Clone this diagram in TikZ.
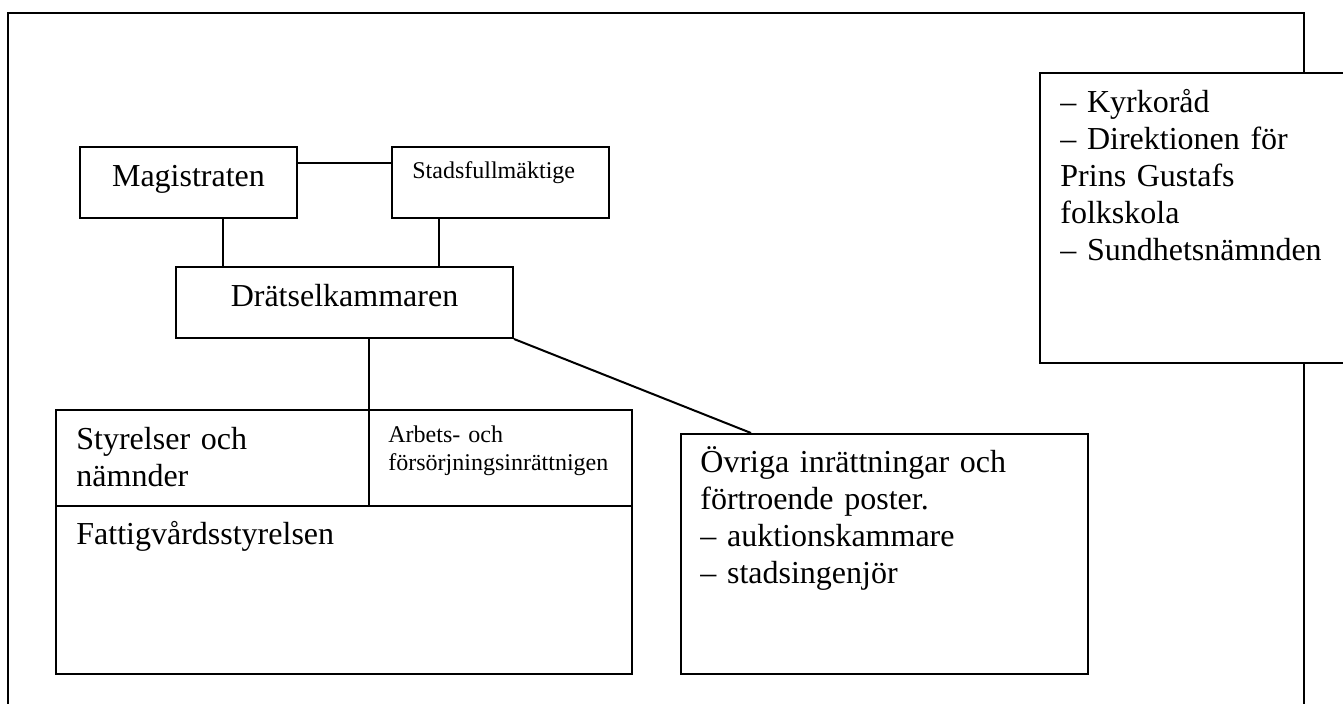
\documentclass[tikz,border=0pt]{standalone}
\usepackage{fontspec}
\setmainfont{Liberation Serif}
\usepackage{tikz}
\usetikzlibrary{positioning}

\begin{document}
\begin{tikzpicture}[
        x=0.5pt, y=-0.5pt,
        box/.style={rectangle, draw, line width=1pt, inner sep=0pt, anchor=north west, fill=white},
        link/.style={line width=1pt},
        txt/.style={inner sep=0pt, text width=300pt, align=left, anchor=base west, font=\fontsize{16}{18.4}\selectfont},
        smalltxt/.style={txt, font=\fontsize{12}{13.8}\selectfont}
    ]
    \useasboundingbox (0,0) rectangle (1343,704);

    % outer frame, open at the bottom
    \draw[line width=1.2pt] (8,720) -- (8,13) -- (1304,13) -- (1304,720);

    \node (mag) [box, minimum width=108.5pt, minimum height=35.5pt] at (79,146) {};
    \node (stad) [box, minimum width=108.5pt, minimum height=35.5pt] at (391,146) {};
    \node (drat) [box, minimum width=168.5pt, minimum height=35.5pt] at (175,266) {};
    \node (styr) [box, minimum width=156.5pt, minimum height=48pt] at (55,409) {};
    \node (arb) [box, minimum width=131.5pt, minimum height=48pt] at (368,409) {};
    \node (fatt) [box, minimum width=288pt, minimum height=84pt] at (55,505) {};
    \node (ovr) [box, minimum width=203.5pt, minimum height=120pt] at (680,433) {};
    \node (kyrk) [box, minimum width=180.5pt, minimum height=145pt] at (1039,72) {};

    \node (magtxt) [inner sep=0pt, anchor=base, font=\fontsize{16}{18.4}\selectfont] at ([yshift=-20.5pt]mag.north) {Magistraten};
    \node (stadtxt) [smalltxt] at ([xshift=10.5pt, yshift=-16.5pt]stad.north west) {Stadsfullmäktige};
    \node (dratxt) [inner sep=0pt, anchor=base, font=\fontsize{16}{18.4}\selectfont] at ([yshift=-20.5pt]drat.north) {Drätselkammaren};
    \node (styrtxt) [txt] at ([xshift=10.5pt, yshift=-20.5pt]styr.north west) {Styrelser och\\nämnder};
    \node (arbtxt) [smalltxt] at ([xshift=10pt, yshift=-17pt]arb.north west) {Arbets- och\\försörjningsinrättnigen};
    \node (fatttxt) [txt] at ([xshift=10.5pt, yshift=-20pt]fatt.north west) {Fattigvårdsstyrelsen};
    \node (ovrtxt) [txt] at ([xshift=10pt, yshift=-20pt]ovr.north west) {Övriga inrättningar och\\förtroende poster.\\– auktionskammare\\– stadsingenjör};
    \node (kyrktxt) [txt] at ([xshift=10.5pt, yshift=-20.5pt]kyrk.north west) {– Kyrkoråd\\– Direktionen för\\Prins Gustafs\\folkskola\\– Sundhetsnämnden};

    \draw[link] ([yshift=-8.5pt]mag.north east) -- ([yshift=-8.5pt]stad.north west);
    \draw[link] ([xshift=72pt]mag.south west) -- ([xshift=72pt]mag.south west |- drat.north);
    \draw[link] ([xshift=24pt]stad.south west) -- ([xshift=24pt]stad.south west |- drat.north);
    \draw[link] ([xshift=97pt]drat.south west) -- ([xshift=97pt]drat.south west |- styr.north);
    \draw[link] (drat.south east) -- ([xshift=35.5pt]ovr.north west);

\end{tikzpicture}
\end{document}
